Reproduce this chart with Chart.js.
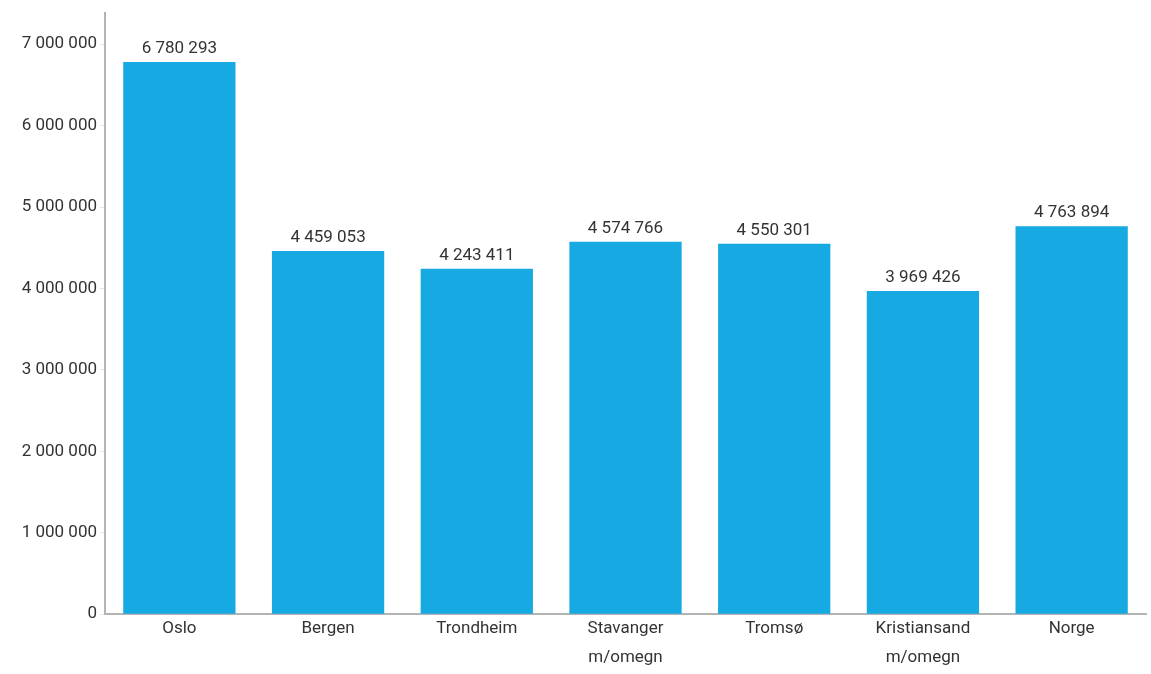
<!DOCTYPE html>
<html>
<head>
<meta charset="utf-8">
<script src="https://cdn.jsdelivr.net/npm/chart.js@4/dist/chart.umd.min.js"></script>
<style>
html,body{margin:0;padding:0;background:#fff;}
#wrap{width:1151px;height:674px;position:relative;}
</style>
</head>
<body>
<div id="wrap"><canvas id="c" width="1151" height="674"></canvas></div>
<script>
const categories = [["Oslo"], ["Bergen"], ["Trondheim"], ["Stavanger", "m/omegn"], ["Tromsø"], ["Kristiansand", "m/omegn"], ["Norge"]];
const values = [6780293, 4459053, 4243411, 4574766, 4550301, 3969426, 4763894];
const yTicks = [0, 1000000, 2000000, 3000000, 4000000, 5000000, 6000000, 7000000];

const FONT = "Roboto, 'Noto Sans', sans-serif";
const TXT = '#333333';
const fmt = v => String(v).replace(/\B(?=(\d{3})+(?!\d))/g, ' ');

const valueLabels = {
  id: 'valueLabels',
  afterDatasetsDraw(chart) {
    const ctx = chart.ctx;
    const meta = chart.getDatasetMeta(0);
    ctx.save();
    ctx.font = '17px ' + FONT;
    ctx.fillStyle = TXT;
    ctx.textAlign = 'center';
    ctx.textBaseline = 'alphabetic';
    meta.data.forEach((bar, i) => {
      ctx.fillText(fmt(values[i]), bar.x, bar.y - 9);
    });
    ctx.restore();
  }
};

new Chart(document.getElementById('c'), {
  type: 'bar',
  data: {
    labels: categories,
    datasets: [{
      data: values,
      backgroundColor: '#17a9e1',
      borderWidth: 0,
      barPercentage: 0.755,
      categoryPercentage: 1.0
    }]
  },
  options: {
    responsive: false,
    animation: false,
    layout: { padding: { top: 4, right: 5, left: 0, bottom: 2 } },
    plugins: { legend: { display: false }, tooltip: { enabled: false } },
    scales: {
      x: {
        grid: { display: false, drawTicks: false },
        border: { display: true, color: '#b4b4b4', width: 2 },
        ticks: { color: TXT, font: { family: FONT, size: 17, lineHeight: 1.7 }, padding: 0, maxRotation: 0, autoSkip: false }
      },
      y: {
        min: 0,
        max: 7380000,
        afterBuildTicks(scale) { scale.ticks = yTicks.map(v => ({ value: v })); },
        afterFit(scale) { scale.width = 105; },
        grid: { display: true, drawOnChartArea: false, drawTicks: true, tickLength: 5, color: '#e6e6e6' },
        border: { display: true, color: '#b4b4b4', width: 2 },
        ticks: { color: TXT, font: { family: FONT, size: 17 }, padding: 3, callback: v => fmt(v) }
      }
    }
  },
  plugins: [valueLabels]
});
</script>
</body>
</html>
